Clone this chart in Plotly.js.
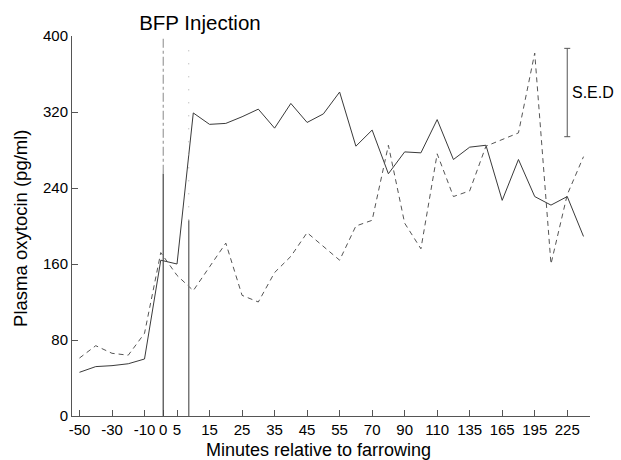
<!DOCTYPE html>
<html>
<head>
<meta charset="utf-8">
<script src="https://cdn.plot.ly/plotly-3.0.1.min.js"></script>
<style>
  html, body { margin: 0; padding: 0; background: #fff; }
  #chart { width: 621px; height: 460px; }
</style>
</head>
<body>
<div id="chart"></div>
<script>
// ---- data ----
const categories = ['-50','-40','-30','-20','-10','0','5','10','15','20','25','30','35','40','45','50','55',
                    '60','70','80','90','100','110','120','135','150','165','180','195','210','225','240'];
const solidSeries = [46, 52, 53, 55, 60, 164, 160, 319, 307, 308, 315, 323, 303, 329, 309, 318, 341,
                     284, 301, 255, 278, 277, 312, 270, 283, 285, 227, 270, 231, 222, 231, 189];
const dashedSeries = [61, 74, 66, 64, 87, 172, 148, 132, 157, 182, 127, 120, 151, 168, 193, 179, 164,
                      200, 206, 285, 203, 176, 276, 231, 237, 284, 291, 298, 382, 160, 233, 273];
const xTickLabels = ['-50','-30','-10','0','5','15','25','35','45','55','70','90','110','135','165','195','225'];
const yTickValues = [0, 80, 160, 240, 320, 400];
const sedCategory = ['225'];
const sedCenter = [340.5];
const sedHalf = [46.5];

// ---- drawing ----
const font = 'Liberation Sans, Arial, Helvetica, sans-serif';
const traces = [
  { x: categories, y: solidSeries, type: 'scatter', mode: 'lines',
    line: { color: '#3a3a3a', width: 1 }, hoverinfo: 'x+y' },
  { x: categories, y: dashedSeries, type: 'scatter', mode: 'lines',
    line: { color: '#555', width: 1, dash: '5px,4px' }, hoverinfo: 'x+y' },
  { x: sedCategory, y: sedCenter, type: 'scatter', mode: 'markers',
    marker: { size: 1, color: 'rgba(0,0,0,0)' },
    error_y: { type: 'data', array: sedHalf, visible: true, width: 3, thickness: 1, color: '#555' },
    hoverinfo: 'skip' }
];

// injection reference lines (category-axis positions)
const line1 = categories.indexOf('0') + 0.15;
const line2 = categories.indexOf('5') + 0.72;
const sedIndex = categories.indexOf(sedCategory[0]);
// the "0" tick sits on the first injection line, as in the original
const xTickVals = xTickLabels.map(t => t === '0' ? line1 : t);

const layout = {
  width: 621, height: 460,
  margin: { l: 72, r: 31, t: 36, b: 44 },
  paper_bgcolor: '#fff', plot_bgcolor: '#fff',
  showlegend: false,
  font: { family: font, size: 15, color: '#000' },
  title: { text: 'BFP Injection', x: 0.322, xanchor: 'center', xref: 'container',
           y: 0.95, yanchor: 'middle', yref: 'container',
           font: { family: font, size: 20.5, color: '#000' } },
  xaxis: {
    type: 'category', categoryorder: 'array', categoryarray: categories,
    range: [-0.46, 31.4],
    tickmode: 'array', tickvals: xTickVals, ticktext: xTickLabels, tickangle: 0,
    ticks: 'inside', ticklen: 6, tickcolor: '#555', tickwidth: 1,
    showline: true, linecolor: '#555', linewidth: 1,
    showgrid: false, zeroline: false,
    tickfont: { family: font, size: 15, color: '#000' }
  },
  yaxis: {
    range: [0, 400], tickmode: 'array', tickvals: yTickValues,
    ticks: 'inside', ticklen: 6, tickcolor: '#555', tickwidth: 1,
    showline: true, linecolor: '#555', linewidth: 1,
    showgrid: false, zeroline: false,
    tickfont: { family: font, size: 15, color: '#000' }
  },
  shapes: [
    { type: 'line', xref: 'x', yref: 'y', x0: line1, x1: line1, y0: 0, y1: 255,
      line: { color: '#444', width: 1.2 } },
    { type: 'line', xref: 'x', yref: 'y', x0: line1, x1: line1, y0: 255, y1: 400,
      line: { color: '#888', width: 1, dash: 'dashdot' } },
    { type: 'line', xref: 'x', yref: 'y', x0: line2, x1: line2, y0: 0, y1: 206,
      line: { color: '#777', width: 1.5 } },
    { type: 'line', xref: 'x', yref: 'y', x0: line2, x1: line2, y0: 206, y1: 396,
      line: { color: '#aaa', width: 1, dash: '1px,12px' } }
  ],
  annotations: [
    { text: 'S.E.D', xref: 'x', yref: 'y', x: sedIndex, y: sedCenter[0], xanchor: 'left', xshift: 3,
      yanchor: 'middle', showarrow: false, font: { family: font, size: 16, color: '#000' } },
    { text: 'Minutes relative to farrowing', xref: 'paper', yref: 'paper', x: 0.476, y: -0.089,
      xanchor: 'center', yanchor: 'middle', showarrow: false,
      font: { family: font, size: 18, color: '#000' } },
    { text: 'Plasma oxytocin (pg/ml)', xref: 'paper', yref: 'paper', x: -0.0985, y: 0.495,
      xanchor: 'center', yanchor: 'middle', textangle: -90, showarrow: false,
      font: { family: font, size: 18.5, color: '#000' } }
  ]
};

Plotly.newPlot('chart', traces, layout, { displayModeBar: false, staticPlot: true });
</script>
</body>
</html>
